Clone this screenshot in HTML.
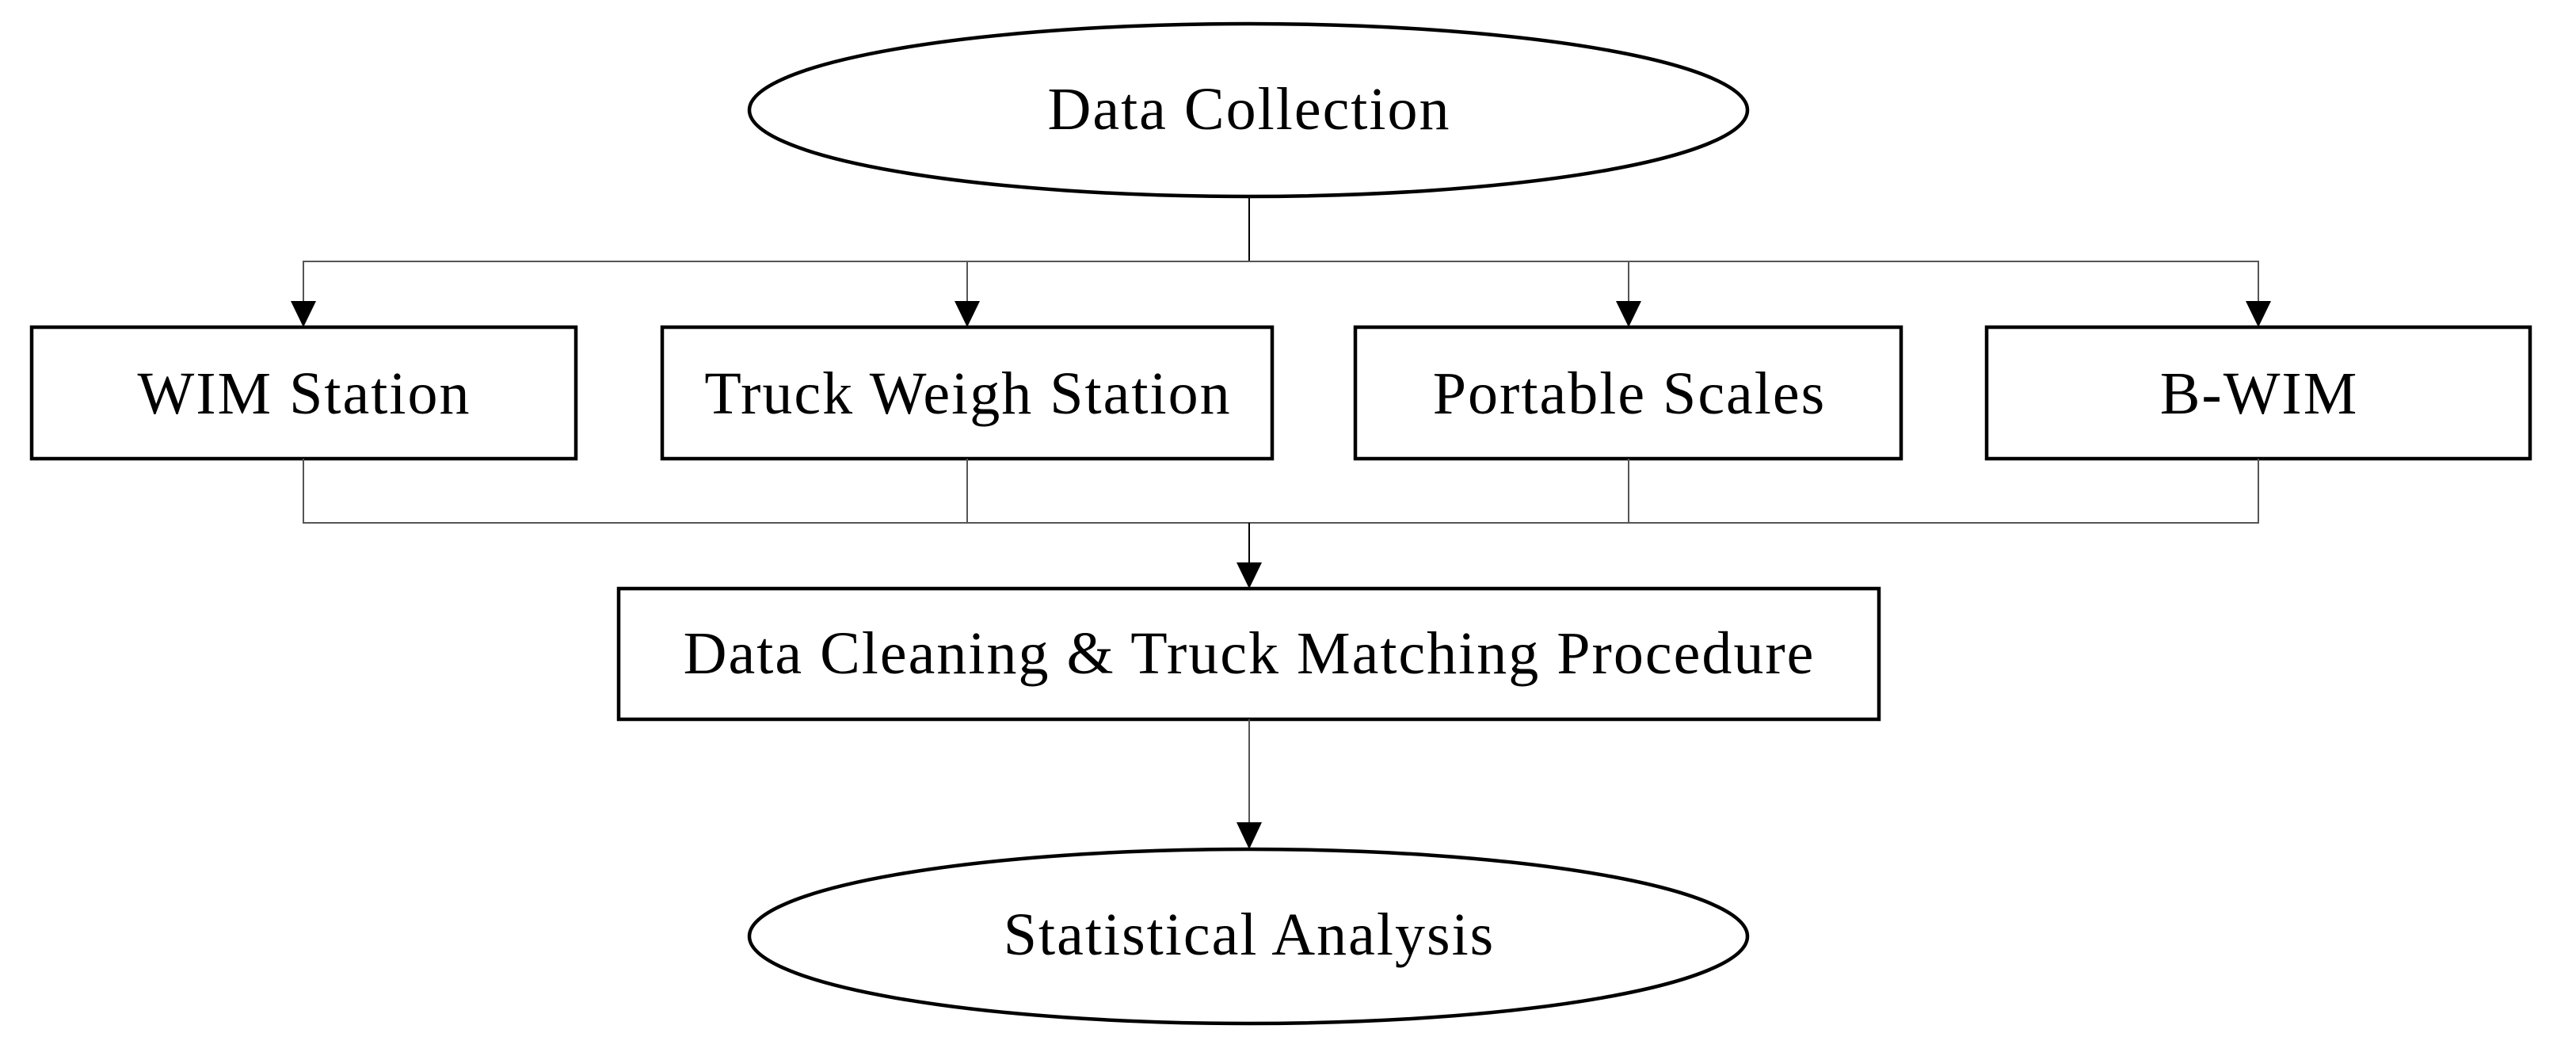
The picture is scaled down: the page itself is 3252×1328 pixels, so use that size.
<!DOCTYPE html>
<html><head><meta charset="utf-8"><style>
html,body{margin:0;padding:0;background:#fff;}
svg{display:block;}
text{font-family:"Liberation Serif",serif;font-size:76px;fill:#000;text-anchor:middle;letter-spacing:2px;}
</style></head><body>
<svg width="3252" height="1328" viewBox="0 0 3252 1328" xmlns="http://www.w3.org/2000/svg">
<g fill="none" stroke="#000" stroke-width="4.5">
<ellipse cx="1576" cy="139" rx="630" ry="109"/>
<ellipse cx="1576" cy="1182" rx="630" ry="110"/>
<rect x="40" y="413" width="687" height="166"/>
<rect x="836" y="413" width="770" height="166"/>
<rect x="1711" y="413" width="689" height="166"/>
<rect x="2508" y="413" width="686" height="166"/>
<rect x="781" y="743" width="1591" height="165"/>
</g>
<g fill="none" stroke="#555" stroke-width="2">
<line x1="1577" y1="248" x2="1577" y2="330" stroke="#000"/>
<polyline points="383,382 383,330 2851,330 2851,382"/>
<line x1="1221" y1="330" x2="1221" y2="382"/>
<line x1="2056" y1="330" x2="2056" y2="382"/>
<polyline points="383,579 383,660 2851,660 2851,579"/>
<line x1="1221" y1="579" x2="1221" y2="660"/>
<line x1="2056" y1="579" x2="2056" y2="660"/>
<line x1="1577" y1="660" x2="1577" y2="712" stroke="#000"/>
<line x1="1577" y1="908" x2="1577" y2="1040"/>
</g>
<g fill="#000">
<polygon points="367,380 399,380 383,413"/>
<polygon points="1205,380 1237,380 1221,413"/>
<polygon points="2040,380 2072,380 2056,413"/>
<polygon points="2835,380 2867,380 2851,413"/>
<polygon points="1561,710 1593,710 1577,743"/>
<polygon points="1561,1038 1593,1038 1577,1072"/>
</g>
<text x="1577" y="163">Data Collection</text>
<text x="384" y="522">WIM Station</text>
<text x="1222" y="522">Truck Weigh Station</text>
<text x="2057" y="522">Portable Scales</text>
<text x="2852" y="522">B-WIM</text>
<text x="1577" y="850">Data Cleaning &amp; Truck Matching Procedure</text>
<text x="1577" y="1205">Statistical Analysis</text>
</svg>
</body></html>
